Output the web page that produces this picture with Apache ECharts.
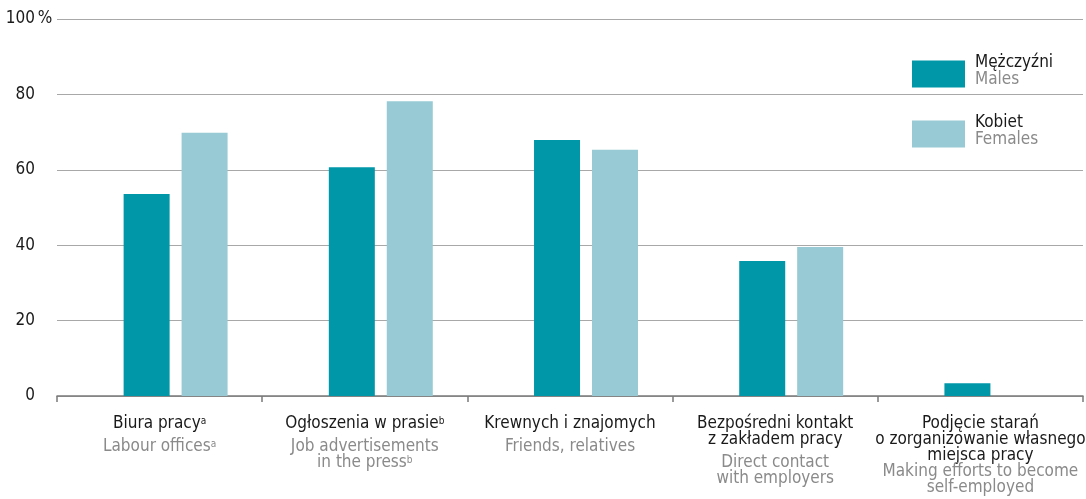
<!DOCTYPE html>
<html>
<head>
<meta charset="utf-8">
<script src="https://cdn.jsdelivr.net/npm/echarts@6/dist/echarts.min.js"></script>
<style>
  html, body { margin: 0; padding: 0; background: #fff; }
  #chart { width: 1086px; height: 499px; }
</style>
</head>
<body>
<div id="chart"></div>
<script>
// dane (%)
var categories = ['Biura pracy', 'Ogłoszenia w prasie', 'Krewnych i znajomych',
  'Bezpośredni kontakt\nz zakładem pracy', 'Podjęcie starań\no zorganizowanie własnego\nmiejsca pracy'];
var categoriesEn = ['Labour offices', 'Job advertisements\nin the press', 'Friends, relatives',
  'Direct contact\nwith employers', 'Making efforts to become\nself-employed'];
var notes = ['a', 'b', '', '', ''];
var males = [53.6, 60.7, 67.9, 35.8, 3.4];
var females = [69.8, 78.2, 65.3, 39.5, null];
var yTicks = [0, 20, 40, 60, 80, 100];

var FONT = '"Liberation Sans Narrow", "DejaVu Sans Condensed", sans-serif';
var DARK = '#1a1a1a';
var GREY = '#8a8a8a';

function catLabel(value, i) {
  var pl = categories[i].split('\n').map(function (l) { return '{n|' + l + '}'; });
  var en = categoriesEn[i].split('\n').map(function (l) { return '{e|' + l + '}'; });
  if (notes[i]) {
    pl[pl.length - 1] += '{s|' + notes[i] + '}';
    en[en.length - 1] += '{t|' + notes[i] + '}';
  }
  var gap = i === 4 ? [] : ['{g| }'];
  return pl.concat(gap, en).join('\n');
}

var chart = echarts.init(document.getElementById('chart'));
chart.setOption({
  animation: false,
  textStyle: { fontFamily: FONT },
  legend: {
    orient: 'vertical',
    left: 912,
    top: 54,
    padding: 0,
    itemWidth: 53,
    itemHeight: 27,
    itemGap: 26,
    icon: 'rect',
    data: ['Mężczyźni', 'Kobiet'],
    formatter: function (name) {
      return '{a|' + name + '}\n{b|' + (name === 'Kobiet' ? 'Females' : 'Males') + '}';
    },
    textStyle: {
      fontFamily: FONT,
      padding: [0, 0, 6, 5],
      rich: {
        a: { fontSize: 17, color: DARK, lineHeight: 17, fontFamily: FONT },
        b: { fontSize: 17, color: GREY, lineHeight: 17, fontFamily: FONT }
      }
    }
  },
  grid: [
    { left: 57, right: 3, top: 19, bottom: 103, outerBoundsMode: 'none' },
    { left: 73, width: 1026, top: 19, bottom: 103, outerBoundsMode: 'none' }
  ],
  xAxis: [{
    type: 'category',
    gridIndex: 0,
    data: categories,
    axisLine: { lineStyle: { color: '#7a7a7a', width: 1.5 } },
    axisTick: { show: true, length: 6, lineStyle: { color: '#7a7a7a', width: 1.5 } },
    axisLabel: {
      interval: 0,
      margin: 20,
      formatter: catLabel,
      rich: {
        n: { fontSize: 17, color: DARK, lineHeight: 16, fontFamily: FONT },
        s: { fontSize: 10, color: DARK, lineHeight: 16, verticalAlign: 'top', fontFamily: FONT },
        e: { fontSize: 17, color: GREY, lineHeight: 16, fontFamily: FONT },
        t: { fontSize: 10, color: GREY, lineHeight: 16, verticalAlign: 'top', fontFamily: FONT },
        g: { fontSize: 4, lineHeight: 7 }
      }
    }
  }, {
    type: 'category',
    gridIndex: 1,
    data: categories,
    show: false
  }],
  yAxis: [{
    type: 'value',
    gridIndex: 0,
    min: yTicks[0],
    max: yTicks[yTicks.length - 1],
    interval: 20,
    axisLine: { show: false },
    axisTick: { show: false },
    splitLine: { lineStyle: { color: '#a8a8a8', width: 1.2 } },
    axisLabel: {
      margin: 7,
      formatter: function (v) {
        return v === 100 ? '{v|100}{p| %}' : '{v|' + v + '}{p| }';
      },
      rich: {
        v: { fontSize: 17, color: DARK, fontFamily: FONT },
        p: { fontSize: 17, color: DARK, width: 15, align: 'left', fontFamily: FONT }
      }
    }
  }, {
    type: 'value',
    gridIndex: 1,
    min: 0,
    max: 100,
    show: false,
    splitLine: { show: false }
  }],
  series: [{
    name: 'Mężczyźni',
    type: 'bar',
    xAxisIndex: 1,
    yAxisIndex: 1,
    data: males,
    barWidth: 46,
    barGap: '26%',
    itemStyle: { color: '#0097a8' }
  }, {
    name: 'Kobiet',
    type: 'bar',
    xAxisIndex: 1,
    yAxisIndex: 1,
    data: females,
    barWidth: 46,
    itemStyle: { color: '#97cad4' }
  }]
});
</script>
</body>
</html>
